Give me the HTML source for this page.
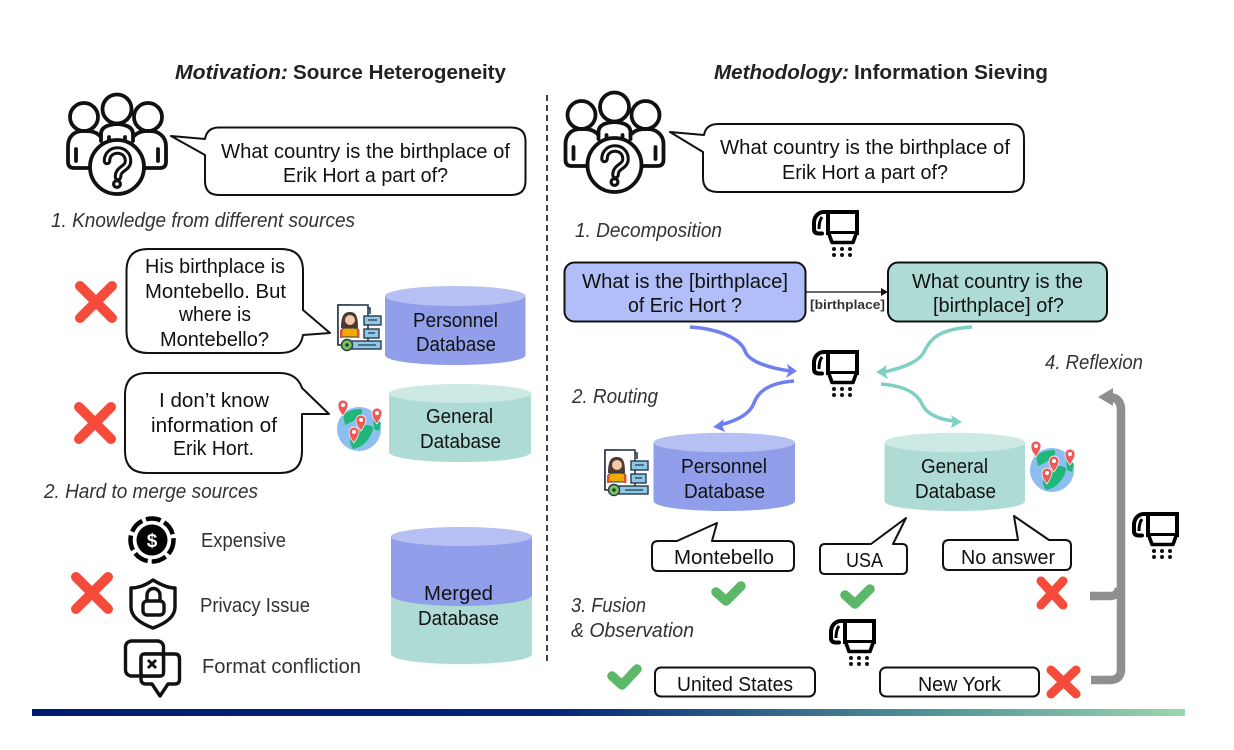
<!DOCTYPE html>
<html>
<head>
<meta charset="utf-8">
<style>
html,body{margin:0;padding:0;background:#fff;width:1234px;height:750px;overflow:hidden}
svg{display:block}
text{font-family:"Liberation Sans",sans-serif;font-size:20px;fill:#111}
.i{font-style:italic;fill:#333}
.b{font-weight:bold}
.bub{fill:#fff;stroke:#111;stroke-width:2;stroke-linejoin:round}
</style>
</head>
<body>
<svg width="1234" height="750" viewBox="0 0 1234 750" xmlns="http://www.w3.org/2000/svg">
<defs>
<linearGradient id="bar" x1="0" x2="1" y1="0" y2="0">
<stop offset="0" stop-color="#001a72"/><stop offset="0.45" stop-color="#04237a"/><stop offset="0.62" stop-color="#2a5f88"/><stop offset="0.8" stop-color="#569a98"/><stop offset="1" stop-color="#9ad7ad"/>
</linearGradient>
<g id="people" fill="none" stroke="#111" stroke-width="3.8" stroke-linecap="round" stroke-linejoin="round">
<circle cx="-33" cy="-50" r="14"/><circle cx="31" cy="-50" r="14"/><circle cx="0" cy="-58" r="14.5"/>
<path d="M-16,-26V-33Q-16,-42 0,-43Q16,-42 16,-33V-26"/>
<path d="M-17,-31C-22,-36 -27,-36 -34,-36C-43,-36 -49,-30 -49,-21V-5Q-49,1 -43,1H-26"/>
<path d="M17,-31C22,-36 27,-36 33,-36C42,-36 49,-30 49,-21V-5Q49,1 43,1H26"/>
<path d="M-41,-18V-6M41,-18V-6M-8,-30V-24M8,-30V-24"/>
<circle cx="0" cy="0" r="27" fill="#fff"/>
<path d="M-10,-6C-10,-20 11,-20 11,-6C11,2 1,1 1,10" stroke-width="8.500"/>
<path d="M-10,-6C-10,-20 11,-20 11,-6C11,2 1,1 1,10" stroke="#fff" stroke-width="2.400"/>
<circle cx="0" cy="17" r="3.400" stroke-width="3.200"/>
</g>
<g id="sieve">
<path d="M17,3H46V24H17Z" fill="#fff" stroke="#000" stroke-width="4" stroke-linejoin="miter"/>
<path d="M16,3H13C7,3 3,8 3,14V20Q3,24.500 8,24.500H11" fill="none" stroke="#000" stroke-width="4" stroke-linecap="round"/>
<path d="M11,8Q8,12 8,20" fill="none" stroke="#000" stroke-width="3"/>
<path d="M18,25L21,33.500H42L45,25" fill="#fff" stroke="#000" stroke-width="3.600" stroke-linejoin="round"/>
<g fill="#111"><circle cx="23" cy="40" r="2"/><circle cx="31" cy="40" r="2"/><circle cx="39" cy="40" r="2"/><circle cx="23" cy="46" r="2"/><circle cx="31" cy="46" r="2"/><circle cx="39" cy="46" r="2"/></g>
</g>
<g id="person">
<path d="M1,1H13L16,4H33V10M1,1V41" fill="#fff" stroke="#28394a" stroke-width="1.6"/>
<rect x="1" y="1" width="30" height="40" fill="#fff" stroke="#28394a" stroke-width="1.6"/>
<path d="M4,24C4,10 8,8 13,8C19,8 21,12 21,24Z" fill="#4b3a36"/>
<circle cx="13" cy="16" r="5" fill="#f7c9a8"/>
<path d="M4,33V28Q4,24 9,24H17Q22,24 22,28V33Z" fill="#f2a900" stroke="#28394a" stroke-width="1"/>
<rect x="3" y="26" width="2.500" height="8" fill="#e2502e"/><rect x="20" y="26" width="2.500" height="8" fill="#e2502e"/>
<g fill="#8fc8e6" stroke="#28394a" stroke-width="1.400"><rect x="27" y="12" width="17" height="9"/><rect x="27" y="25" width="15" height="9"/><rect x="15" y="37" width="29" height="8"/></g>
<path d="M31,16H40M31,29H38M21,41H39" stroke="#28394a" stroke-width="1.200"/>
<circle cx="10" cy="41" r="5.500" fill="#7cc456" stroke="#28394a" stroke-width="1.400"/><circle cx="10" cy="41" r="1.800" fill="#28394a"/>
</g>
<g id="globe">
<circle cx="0" cy="0" r="22" fill="#8dbef0"/>
<path d="M-16,-14C-12,-18 -4,-20 2,-20C6,-16 0,-10 -14,-4Z" fill="#1fb87a"/>
<path d="M-6,4C0,-4 8,-6 14,-2C14,6 6,18 -6,20C-10,14 -10,8 -6,4Z" fill="#1fb87a"/>
<path d="M14,-14L22,-6L20,2L15,0Z" fill="#1fb87a"/>
<g fill="#ee5a5a" stroke="#fff" stroke-width="0.700">
<path d="M-16,-13C-21,-19 -21,-22 -21,-24A5,5 0 1 1 -11,-24C-11,-22 -12,-19 -16,-13Z"/>
<path d="M18,-5C13,-11 13,-14 13,-16A5,5 0 1 1 23,-16C23,-14 22,-11 18,-5Z"/>
<path d="M2,2C-3,-4 -3,-7 -3,-9A5,5 0 1 1 7,-9C7,-7 6,-4 2,2Z"/>
<path d="M-5,14C-10,8 -10,5 -10,3A5,5 0 1 1 0,3C0,5 -1,8 -5,14Z"/>
</g>
<g fill="#fff"><circle cx="-16" cy="-24" r="2"/><circle cx="18" cy="-16" r="2"/><circle cx="2" cy="-9" r="2"/><circle cx="-5" cy="3" r="2"/></g>
</g>
</defs>

<!-- Titles -->
<text x="175" y="79" class="b" textLength="113" lengthAdjust="spacingAndGlyphs" style="font-style:italic;fill:#222">Motivation:</text>
<text x="293" y="79" class="b" textLength="213" lengthAdjust="spacingAndGlyphs" style="fill:#222">Source Heterogeneity</text>
<text x="714" y="79" class="b" textLength="135" lengthAdjust="spacingAndGlyphs" style="font-style:italic;fill:#222">Methodology:</text>
<text x="854" y="79" class="b" textLength="194" lengthAdjust="spacingAndGlyphs" style="fill:#222">Information Sieving</text>

<line x1="547" y1="95" x2="547" y2="664" stroke="#111" stroke-width="1.600" stroke-dasharray="6 4"/>

<!-- LEFT -->
<use href="#people" x="117" y="167"/>
<path class="bub" d="M171,136L205,139Q207,127.500 219,127.500H511Q525.500,127.500 525.500,141V181Q525.500,195 511,195H219Q205,195 205,181V155Z"/>
<text x="221" y="158" textLength="289" lengthAdjust="spacingAndGlyphs">What country is the birthplace of</text>
<text x="283" y="182" textLength="165" lengthAdjust="spacingAndGlyphs">Erik Hort a part of?</text>
<text x="51" y="227" class="i" textLength="304" lengthAdjust="spacingAndGlyphs">1. Knowledge from different sources</text>

<path d="M80,286L112,318M112,286L80,318" stroke="#f44b3b" stroke-width="10" stroke-linecap="round"/>
<path class="bub" d="M126.500,271Q126.500,249 148,249H281Q303,249 303,271V310L330,333L303,335Q300,353 280,353H148Q126.500,353 126.500,331Z"/>
<text x="145" y="273" textLength="140" lengthAdjust="spacingAndGlyphs">His birthplace is</text>
<text x="145" y="298" textLength="141" lengthAdjust="spacingAndGlyphs">Montebello. But</text>
<text x="179" y="321" textLength="72" lengthAdjust="spacingAndGlyphs">where is</text>
<text x="160" y="346" textLength="109" lengthAdjust="spacingAndGlyphs">Montebello?</text>
<use href="#person" x="337" y="304"/>
<path d="M385,296V355C385,361 416,365 455,365C494,365 525.500,361 525.500,355V296Z" fill="#919eea"/>
<ellipse cx="455.200" cy="296" rx="70.300" ry="10" fill="#b6c0f3"/>
<text x="413" y="327" textLength="85" lengthAdjust="spacingAndGlyphs">Personnel</text>
<text x="416" y="351" textLength="80" lengthAdjust="spacingAndGlyphs">Database</text>

<path d="M79,407L111,439M111,407L79,439" stroke="#f44b3b" stroke-width="10" stroke-linecap="round"/>
<path class="bub" d="M125,395Q125,373 147,373H279Q297,373 302,388L329,414H302V451Q302,473 280,473H147Q125,473 125,451Z"/>
<text x="159" y="407" textLength="110" lengthAdjust="spacingAndGlyphs">I don’t know</text>
<text x="151" y="432" textLength="126" lengthAdjust="spacingAndGlyphs">information of</text>
<text x="173" y="455" textLength="81" lengthAdjust="spacingAndGlyphs">Erik Hort.</text>
<use href="#globe" x="359" y="429"/>
<path d="M389,393.500V452C389,458 420,462 460,462C500,462 531,458 531,452V393.500Z" fill="#aedcd5"/>
<ellipse cx="460" cy="393.500" rx="71" ry="9.500" fill="#cce9e3"/>
<text x="426" y="423" textLength="67" lengthAdjust="spacingAndGlyphs">General</text>
<text x="420" y="448" textLength="81" lengthAdjust="spacingAndGlyphs">Database</text>

<text x="44" y="498" class="i" textLength="214" lengthAdjust="spacingAndGlyphs">2. Hard to merge sources</text>

<circle cx="152" cy="540" r="15.500" fill="#000"/>
<circle cx="152" cy="540" r="21.500" fill="none" stroke="#000" stroke-width="4.500" stroke-dasharray="15 4"/>
<text x="152" y="547" text-anchor="middle" class="b" style="font-size:19px;fill:#fff">$</text>
<text x="201" y="547" textLength="85" lengthAdjust="spacingAndGlyphs" style="fill:#333">Expensive</text>

<path d="M76,577L108,609M108,577L76,609" stroke="#f44b3b" stroke-width="10" stroke-linecap="round"/>
<path d="M153,580Q166,588 175,588V607Q175,620 153,628Q131,620 131,607V588Q142,588 153,580Z" fill="#fff" stroke="#111" stroke-width="3.400" stroke-linejoin="round"/>
<rect x="143" y="601" width="21" height="14" rx="4" fill="none" stroke="#111" stroke-width="3.400"/>
<path d="M147,601V595A6.500,6.500 0 0 1 160,595V601" fill="none" stroke="#111" stroke-width="3.400"/>
<text x="200" y="612" textLength="110" lengthAdjust="spacingAndGlyphs" style="fill:#333">Privacy Issue</text>

<rect x="125.500" y="641" width="38" height="35" rx="6" fill="none" stroke="#111" stroke-width="3.400"/>
<path d="M146,654H175Q179.500,654 179.500,659V679Q179.500,684 175,684H168L160,696L152,684H146Q141,684 141,679V659Q141,654 146,654Z" fill="none" stroke="#111" stroke-width="3.400" stroke-linejoin="round"/>
<rect x="141" y="654" width="22.500" height="22" rx="3" fill="#fff" stroke="#111" stroke-width="3.400"/>
<path d="M148,660L156,668M156,660L148,668" stroke="#111" stroke-width="3"/>
<text x="202" y="673" textLength="159" lengthAdjust="spacingAndGlyphs" style="fill:#333">Format confliction</text>

<path d="M391,537V654C391,660 422,664 461.500,664C501,664 532,660 532,654V537Z" fill="#aedcd5"/>
<path d="M391,537V595C391,601 422,606 461.500,606C501,606 532,601 532,595V537Z" fill="#919eea"/>
<ellipse cx="461.500" cy="536.500" rx="70.500" ry="9.500" fill="#b6c0f3"/>
<text x="424" y="600" textLength="69" lengthAdjust="spacingAndGlyphs">Merged</text>
<text x="418" y="625" textLength="81" lengthAdjust="spacingAndGlyphs">Database</text>

<!-- RIGHT -->
<use href="#people" x="614.500" y="165"/>
<path class="bub" d="M670,132L704,135Q706,124 718,124H1010Q1024,124 1024,138V178Q1024,192 1010,192H718Q703,192 703,178V152Z"/>
<text x="720" y="154" textLength="290" lengthAdjust="spacingAndGlyphs">What country is the birthplace of</text>
<text x="782" y="179" textLength="166" lengthAdjust="spacingAndGlyphs">Erik Hort a part of?</text>
<text x="575" y="237" class="i" textLength="147" lengthAdjust="spacingAndGlyphs">1. Decomposition</text>
<use href="#sieve" x="811" y="209"/>

<rect x="564.500" y="262.500" width="241" height="59" rx="10" fill="#b2bef8" stroke="#111" stroke-width="2"/>
<text x="582" y="288" textLength="206" lengthAdjust="spacingAndGlyphs">What is the [birthplace]</text>
<text x="628" y="312" textLength="114" lengthAdjust="spacingAndGlyphs">of Eric Hort ?</text>
<line x1="806" y1="292" x2="882" y2="292" stroke="#111" stroke-width="1.300"/>
<path d="M888,292L881,288V296Z" fill="#111"/>
<text x="810" y="309" class="b" textLength="75" lengthAdjust="spacingAndGlyphs" style="font-size:13px;fill:#333">[birthplace]</text>
<rect x="888" y="262.500" width="219" height="59" rx="10" fill="#aedcd5" stroke="#111" stroke-width="2"/>
<text x="912" y="288" textLength="171" lengthAdjust="spacingAndGlyphs">What country is the</text>
<text x="933" y="312" textLength="131" lengthAdjust="spacingAndGlyphs">[birthplace] of?</text>

<!-- Curves -->
<g fill="none" stroke-width="3.500">
<path d="M690,327C722,329 741,340 745,351C749,362 770,368 790,371" stroke="#6f7ff0"/>
<path d="M972,327C940,329 931,338 925,350C920,362 902,368 884,372" stroke="#7fd0c3"/>
<path d="M794,381C768,383 758,392 754,403C750,414 736,421 720,425" stroke="#6f7ff0"/>
<path d="M881,384C905,386 917,393 922,404C926,414 940,420 955,421" stroke="#7fd0c3"/>
</g>
<path d="M797,371L787,364L789,371L786,378Z" fill="#6f7ff0"/>
<path d="M876,372L887,365L885,372L888,379Z" fill="#7fd0c3"/>
<path d="M713,427L724,419L722,425L725,432Z" fill="#6f7ff0"/>
<path d="M962,422L951,415L953,421L951,428Z" fill="#7fd0c3"/>
<use href="#sieve" x="811" y="349"/>
<text x="572" y="403" class="i" textLength="86" lengthAdjust="spacingAndGlyphs">2. Routing</text>
<text x="1045" y="369" class="i" textLength="98" lengthAdjust="spacingAndGlyphs">4. Reflexion</text>

<!-- Databases right -->
<use href="#person" x="604" y="449"/>
<path d="M653.500,442.500V501C653.500,507 685,511 724,511C763,511 795,507 795,501V442.500Z" fill="#919eea"/>
<ellipse cx="724.200" cy="442.500" rx="70.700" ry="9.800" fill="#b6c0f3"/>
<text x="681" y="473" textLength="86" lengthAdjust="spacingAndGlyphs">Personnel</text>
<text x="684" y="498" textLength="81" lengthAdjust="spacingAndGlyphs">Database</text>
<path d="M884.500,442.500V501C884.500,507 916,511 955,511C994,511 1025,507 1025,501V442.500Z" fill="#aedcd5"/>
<ellipse cx="954.800" cy="442.500" rx="70.300" ry="9.800" fill="#cce9e3"/>
<text x="921" y="473" textLength="67" lengthAdjust="spacingAndGlyphs">General</text>
<text x="915" y="498" textLength="81" lengthAdjust="spacingAndGlyphs">Database</text>
<use href="#globe" x="1052" y="470"/>

<!-- Answer bubbles -->
<path class="bub" d="M658,541H677L717,523L712,541H788Q794,541 794,547V565Q794,571 788,571H658Q652,571 652,565V547Q652,541 658,541Z"/>
<text x="674" y="564" textLength="100" lengthAdjust="spacingAndGlyphs">Montebello</text>
<path class="bub" d="M825,544H871L906,518L893,544H902Q907,544 907,549V569Q907,574 902,574H825Q820,574 820,569V549Q820,544 825,544Z"/>
<text x="846" y="567" textLength="37" lengthAdjust="spacingAndGlyphs">USA</text>
<path class="bub" d="M949,540H1018L1014,516L1049,540H1065Q1071,540 1071,546V564Q1071,570 1065,570H949Q943,570 943,564V546Q943,540 949,540Z"/>
<text x="961" y="564" textLength="94" lengthAdjust="spacingAndGlyphs">No answer</text>

<g fill="none" stroke="#5cb769" stroke-width="9.500" stroke-linecap="round" stroke-linejoin="round">
<path d="M716,592L726,601L741,586"/>
<path d="M845,595L855,604L870,589"/>
<path d="M612,676L622,685L637,669"/>
</g>
<path d="M1041,581L1063,605M1063,581L1041,605" stroke="#f44b3b" stroke-width="9" stroke-linecap="round"/>
<path d="M1051,670L1076,694M1076,670L1051,694" stroke="#f44b3b" stroke-width="9" stroke-linecap="round"/>
<text x="571" y="612" class="i" textLength="75" lengthAdjust="spacingAndGlyphs">3. Fusion</text>
<text x="571" y="637" class="i" textLength="123" lengthAdjust="spacingAndGlyphs">&amp; Observation</text>
<use href="#sieve" x="828" y="618"/>
<use href="#sieve" x="1131" y="511"/>

<rect x="655" y="667.500" width="160" height="29" rx="6" fill="#fff" stroke="#111" stroke-width="2"/>
<text x="677" y="691" textLength="116" lengthAdjust="spacingAndGlyphs">United States</text>
<rect x="880" y="667.500" width="159" height="29" rx="6" fill="#fff" stroke="#111" stroke-width="2"/>
<text x="918" y="691" textLength="83" lengthAdjust="spacingAndGlyphs">New York</text>

<!-- Grey bracket -->
<g fill="none" stroke="#8f8f8f" stroke-width="8.500">
<path d="M1091,680H1110Q1121,680 1121,669V410Q1121,398 1110,397"/>
<path d="M1090,596H1110Q1118,596 1119,588"/>
</g>
<path d="M1098,397L1113,388V406Z" fill="#8f8f8f"/>

<rect x="32" y="709" width="1153" height="7" fill="url(#bar)"/>
</svg>
</body>
</html>
